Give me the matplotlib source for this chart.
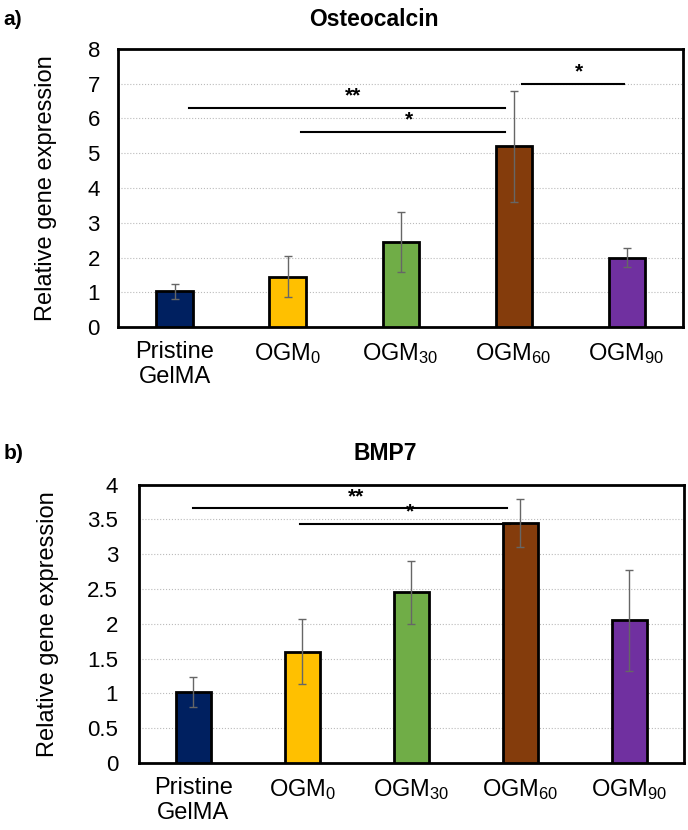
import matplotlib.pyplot as plt

plt.rcParams['font.family'] = ['Liberation Sans', 'DejaVu Sans']
plt.rcParams['mathtext.fontset'] = 'custom'
plt.rcParams['mathtext.rm'] = 'Liberation Sans'
plt.rcParams['mathtext.default'] = 'rm'

groups = ['Pristine\nGelMA', 'OGM$_{0}$', 'OGM$_{30}$', 'OGM$_{60}$', 'OGM$_{90}$']
colors = ['#002060', '#FFC000', '#70AD47', '#843C0C', '#7030A0']

# Osteocalcin
ocn_mean = [1.03, 1.45, 2.45, 5.2, 2.0]
ocn_err = [0.22, 0.6, 0.87, 1.6, 0.28]
# (x_start, x_end, y, label)
ocn_sig = [(0.13, 2.92, 6.3, '**'), (1.12, 2.92, 5.62, '*'), (3.07, 3.98, 7.0, '*')]

# BMP7
bmp_mean = [1.02, 1.6, 2.45, 3.45, 2.05]
bmp_err = [0.22, 0.47, 0.45, 0.35, 0.73]
bmp_sig = [(0.0, 2.88, 3.66, '**'), (0.98, 2.9, 3.44, '*')]


def draw_panel(ax, means, errs, sig, ymax, ystep, label_x, ypad):
    x = range(len(groups))
    ax.bar(x, means, width=0.32, color=colors, edgecolor='black', linewidth=2, zorder=3)
    ax.errorbar(x, means, yerr=errs, fmt='none', ecolor='#666666', elinewidth=1,
                capsize=3, capthick=1, zorder=4)
    for x0, x1, y, lab in sig:
        ax.plot([x0, x1], [y, y], color='black', lw=1.5, zorder=5)
        ax.text((x0 + x1) / 2 + 0.05, y + ymax * 0.008, lab, ha='center', va='bottom',
                fontsize=15, fontweight='bold')
    ax.set_xlim(-0.5, len(groups) - 0.5)
    ax.set_ylim(0, ymax)
    ticks = [i * ystep for i in range(int(round(ymax / ystep)) + 1)]
    ax.set_yticks(ticks)
    ax.set_yticklabels([('%g' % t) for t in ticks])
    ax.set_xticks(list(x))
    ax.set_xticklabels(groups)
    ax.tick_params(axis='both', length=0, labelsize=17)
    ax.tick_params(axis='y', labelsize=16, pad=ypad)
    ax.tick_params(axis='x', pad=10)
    ax.grid(axis='y', linestyle=':', color='#bbbbbb', lw=0.8, zorder=0)
    for s in ax.spines.values():
        s.set_linewidth(2)
    ax.set_ylabel('Relative gene expression', fontsize=17)
    ax.yaxis.set_label_coords(label_x, 0.5)


fig = plt.figure(figsize=(6.88, 8.3), dpi=100)
ax1 = fig.add_axes([0.1715, 0.606, 0.8215, 0.335])
ax2 = fig.add_axes([0.202, 0.081, 0.792, 0.335])

draw_panel(ax1, ocn_mean, ocn_err, ocn_sig, 8, 1, -0.108, 13)
draw_panel(ax2, bmp_mean, bmp_err, bmp_sig, 4, 0.5, -0.147, 15)

fig.text(0.544, 0.976, 'Osteocalcin', ha='center', va='center', fontsize=16.5, fontweight='bold')
fig.text(0.56, 0.454, 'BMP7', ha='center', va='center', fontsize=16.5, fontweight='bold')
fig.text(0.005, 0.976, 'a)', va='center', fontsize=15, fontweight='bold')
fig.text(0.005, 0.454, 'b)', va='center', fontsize=15, fontweight='bold')

fig.savefig('out.png', dpi=100)
